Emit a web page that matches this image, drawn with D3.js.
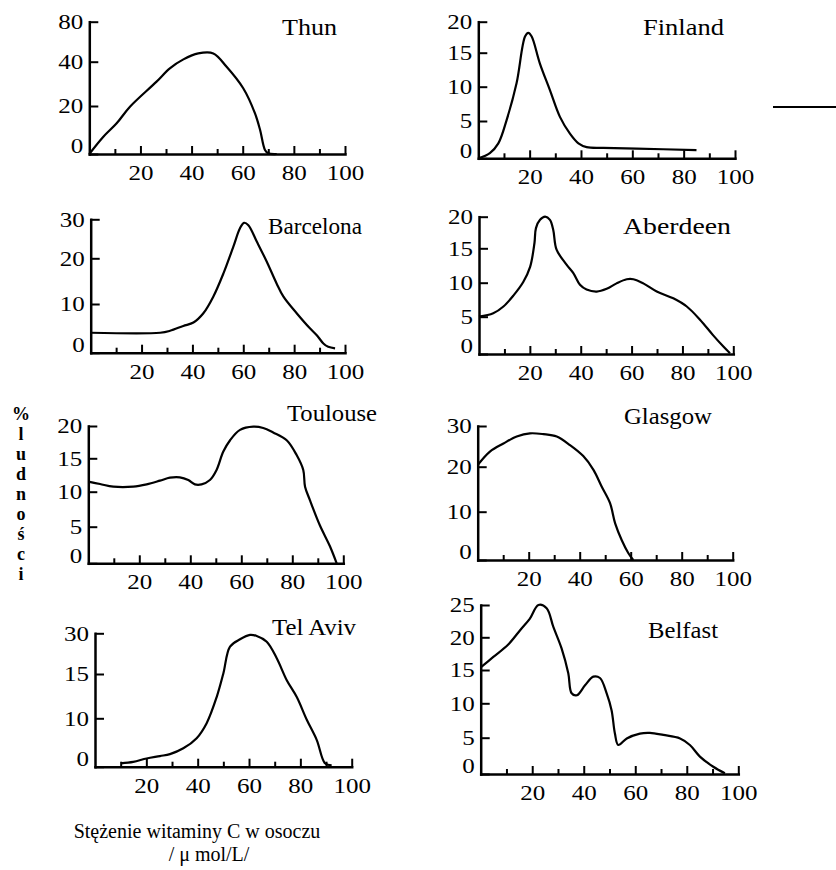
<!DOCTYPE html>
<html><head><meta charset="utf-8">
<script src="https://cdn.jsdelivr.net/npm/d3@7/dist/d3.min.js"></script>
<style>body{margin:0;background:#fff}svg{display:block}
svg text{font-family:'Liberation Serif','DejaVu Serif','Times New Roman',serif}</style>
</head><body>
<svg id="c" width="836" height="870"></svg>
<script>
// ---- data (x = vitamin C µmol/L, y = % of population) ----
const xTickLabels = [20, 40, 60, 80, 100];

const thunX = [0, 5.5, 10.7, 15.9, 26.3, 31.5, 36.8, 42.6, 48.5, 53.7, 60.2, 64.8, 66.8, 68.7, 70, 73.3];
const thunY = [0, 7.2, 12.8, 19.7, 31, 37, 42.3, 48.3, 48.3, 37.7, 28, 16.9, 10, 1.7, 0.3, 0];
const thunTicks = [0, 20, 40, 80];

const finlandX = [0, 4.5, 7.8, 11, 14.9, 18.2, 19.5, 20.8, 24, 27.9, 31.8, 35.7, 39, 42.2, 48.7, 61.7, 85];
const finlandY = [0, 0.7, 2, 5.1, 10.5, 17.6, 18.2, 17.6, 13.4, 9.5, 5.6, 3.3, 2, 1.5, 1.4, 1.3, 1.1];
const finlandTicks = [0, 5, 10, 15, 20];

const barcelonaX = [0, 27.3, 31.2, 36.4, 40.4, 44.3, 48.2, 52.2, 56.1, 58.7, 60.3, 62, 65.3, 69.2, 73.1, 75.8, 81, 86.2, 88.9, 91.5, 93.4, 96.1];
const barcelonaY = [4.1, 4.1, 4.5, 5.5, 6.2, 8.1, 11.6, 16.7, 23, 27.7, 29.1, 28.5, 24.3, 19.3, 14.5, 11.6, 8.1, 5, 3.6, 1.9, 1.2, 0.9];
const barcelonaTicks = [0, 10, 20, 30];

const aberdeenX = [0, 5.6, 9.6, 13.5, 17.4, 20.1, 21.8, 22.4, 24, 26, 27.9, 29.2, 30.5, 34.5, 37.1, 39.7, 42.3, 46.3, 50.2, 54.1, 58.1, 60.7, 64.6, 69.9, 76.4, 81.7, 86.9, 92.1, 96.1, 98.7];
const aberdeenY = [5, 5.5, 6.5, 8.1, 10.1, 12.3, 15.8, 18.2, 19.5, 20, 19.5, 17.9, 14.8, 12.6, 11.4, 9.7, 9, 8.7, 9.1, 9.9, 10.5, 10.5, 9.9, 8.7, 7.7, 6.5, 4.6, 2.5, 1, 0.1];
const aberdeenTicks = [0, 5, 10, 15, 20];

const toulouseX = [0, 4.6, 9.8, 17.6, 22.9, 28.1, 32, 35.9, 39.2, 41.8, 44.4, 47.7, 50.3, 52.9, 55.6, 59.5, 64.7, 68.6, 72.5, 77.8, 81.7, 84.3, 85, 86.9, 90.8, 94.8, 97.4];
const toulouseY = [11.5, 11.15, 10.75, 10.75, 11.1, 11.65, 12.1, 12.15, 11.75, 11.1, 11.1, 11.75, 13.25, 16, 17.8, 19.4, 19.9, 19.7, 19, 17.8, 15.5, 13.25, 10.75, 8.8, 5.2, 2.3, 0];
const toulouseTicks = [0, 5, 10, 15, 20];

const glasgowX = [0, 4.8, 10.1, 15.3, 20.5, 25.8, 31, 36.2, 41.4, 45.4, 48.6, 51.9, 53.9, 56.5, 59.1, 61];
const glasgowY = [20.4, 23.7, 25.7, 27.4, 28.2, 28, 27.4, 25.3, 22.6, 19.3, 15.6, 11.9, 7.6, 4.1, 1.4, 0];
const glasgowTicks = [0, 10, 20, 30];

const telAvivX = [10.1, 14.9, 20.1, 25.3, 29.2, 34.4, 39.6, 43.5, 47.4, 50, 52.6, 56.5, 60.4, 63, 66.9, 70.8, 74.7, 78.6, 82.5, 86.4, 89.6, 92.2];
const telAvivY = [0.7, 1, 1.7, 2.2, 2.6, 3.8, 5.9, 9, 12.4, 15.2, 25.1, 27.8, 29.4, 29, 26.9, 20.8, 14.3, 12.4, 9.7, 5.5, 0.7, 0.3];
const telAvivTicks = [0, 10, 15, 30];

const belfastX = [0, 4.9, 10.7, 15.3, 19.1, 22.4, 25.6, 28.2, 31.4, 34, 35.3, 37.3, 40.5, 43.7, 46.3, 48.9, 50.8, 52.1, 53.4, 56.7, 61.8, 65.7, 70.9, 77.4, 81.2, 85.1, 90.3, 94.8];
const belfastY = [15.4, 17, 18.9, 21.1, 22.9, 25, 24.5, 21.6, 18.3, 14.5, 11.5, 11.2, 12.7, 14, 13.8, 11.5, 9, 5.6, 4, 4.9, 5.6, 5.7, 5.4, 4.9, 4, 2.4, 1, 0.1];
const belfastTicks = [0, 5, 10, 15, 20, 25];

const cityNames = ["Thun", "Finland", "Barcelona", "Aberdeen", "Toulouse", "Glasgow", "Tel Aviv", "Belfast"];
const yAxisTitle = "%ludności";
const xAxisTitle = ["Stężenie witaminy C w osoczu", "/ \u03bc mol/L/"];

// ---- layout ----
const svg = d3.select('#c');

const panels = [
  {name: cityNames[0], xs: thunX, ys: thunY, ticks: thunTicks, x0: 89.3, x1: 345, px: [154, 106, 61.7, 21.7], tx: 282, ty: 35, tw: 55},
  {name: cityNames[1], xs: finlandX, ys: finlandY, ticks: finlandTicks, x0: 478.3, x1: 735, px: [158.3, 121, 86.7, 52.7, 21.7], tx: 643, ty: 35, tw: 81},
  {name: cityNames[2], xs: barcelonaX, ys: barcelonaY, ticks: barcelonaTicks, x0: 90.7, x1: 345, px: [352.7, 304, 258.3, 219.3], tx: 268, ty: 234, tw: 94},
  {name: cityNames[3], xs: aberdeenX, ys: aberdeenY, ticks: aberdeenTicks, x0: 479, x1: 733.3, px: [354, 316.7, 282.7, 248.3, 216.7], tx: 623, ty: 234, tw: 108},
  {name: cityNames[4], xs: toulouseX, ys: toulouseY, ticks: toulouseTicks, x0: 88.3, x1: 343.3, px: [563.3, 526.7, 491.7, 458.3, 426], tx: 287, ty: 421, tw: 90},
  {name: cityNames[5], xs: glasgowX, ys: glasgowY, ticks: glasgowTicks, x0: 477.7, x1: 732.7, px: [560, 511.7, 466.7, 426], tx: 624, ty: 424, tw: 88},
  {name: cityNames[6], xs: telAvivX, ys: telAvivY, ticks: telAvivTicks, x0: 95, x1: 351.7, px: [766.7, 718.3, 674, 633.3], tx: 272, ty: 635, tw: 84},
  {name: cityNames[7], xs: belfastX, ys: belfastY, ticks: belfastTicks, x0: 480.7, x1: 738.3, px: [774, 737.7, 703.3, 670, 637.3, 605], tx: 648, ty: 638, tw: 70}
];

const TICK_FS = 21, CHAR_W = 12.5;

function styleTickText(sel) {
  sel.attr('font-family', null).attr('font-size', TICK_FS).attr('fill', '#000')
     .attr('textLength', function() { return this.textContent.length * CHAR_W; })
     .attr('lengthAdjust', 'spacingAndGlyphs');
}

panels.forEach(p => {
  const x = d3.scaleLinear().domain([0, 100]).range([p.x0, p.x1]);
  const y = d3.scaleLinear().domain(p.ticks).range(p.px);
  const y0 = y(0);
  const g = svg.append('g');

  // minor x ticks (odd tens)
  g.append('g').attr('transform', `translate(0,${y0})`)
    .call(d3.axisBottom(x).tickValues([10, 30, 50, 70, 90]).tickSize(-5).tickSizeOuter(0).tickFormat(''))
    .call(s => { s.attr('font-family', null); s.select('.domain').remove(); s.selectAll('line').attr('stroke', '#000').attr('stroke-width', 2); });

  // major x axis
  const xa = g.append('g').attr('transform', `translate(0,${y0})`)
    .call(d3.axisBottom(x).tickValues(xTickLabels).tickSize(-8).tickSizeOuter(0).tickPadding(11));
  xa.attr('font-family', null);
  xa.select('.domain').attr('stroke', '#000').attr('stroke-width', 2.5).attr('stroke-linecap', 'square');
  xa.selectAll('line').attr('stroke', '#000').attr('stroke-width', 2);
  xa.selectAll('text').call(styleTickText);

  // y axis
  const ya = g.append('g').attr('transform', `translate(${p.x0},0)`)
    .call(d3.axisLeft(y).tickValues(p.ticks).tickSize(-9).tickSizeOuter(0).tickPadding(6));
  ya.attr('font-family', null);
  ya.select('.domain').attr('stroke', '#000').attr('stroke-width', 2.5).attr('stroke-linecap', 'square');
  ya.selectAll('line').attr('stroke', '#000').attr('stroke-width', 2);
  ya.selectAll('text').call(styleTickText)
    .attr('dy', d => d === 0 ? '-0.05em' : '0.32em');

  // curve
  const pts = p.xs.map((v, i) => [v, p.ys[i]]);
  g.append('path').datum(pts)
    .attr('fill', 'none').attr('stroke', '#000').attr('stroke-width', 2.2).attr('stroke-linejoin', 'round')
    .attr('d', d3.line().x(d => x(d[0])).y(d => y(d[1])).curve(d3.curveCatmullRom.alpha(0.5)));

  // title
  svg.append('text').attr('x', p.tx).attr('y', p.ty)
    .attr('font-size', 23).attr('fill', '#000')
    .attr('textLength', p.tw).attr('lengthAdjust', 'spacingAndGlyphs')
    .text(p.name);
});

// y axis title: stacked upright letters (vertical writing mode)
svg.append('text').attr('x', 21).attr('y', 404)
  .style('writing-mode', 'vertical-rl').style('text-orientation', 'upright')
  .attr('font-size', 18).attr('font-weight', 'bold').attr('fill', '#000')
  .text(yAxisTitle);

// x axis title
svg.append('text').attr('x', 197).attr('y', 838).attr('text-anchor', 'middle')
  .attr('font-size', 20).attr('fill', '#000').text(xAxisTitle[0]);
svg.append('text').attr('x', 209).attr('y', 861).attr('text-anchor', 'middle')
  .attr('font-size', 20).attr('fill', '#000').text(xAxisTitle[1]);

// stray horizontal rule at top right
svg.append('line').attr('x1', 773).attr('x2', 836).attr('y1', 107).attr('y2', 107)
  .attr('stroke', '#000').attr('stroke-width', 2);
</script>
</body></html>
